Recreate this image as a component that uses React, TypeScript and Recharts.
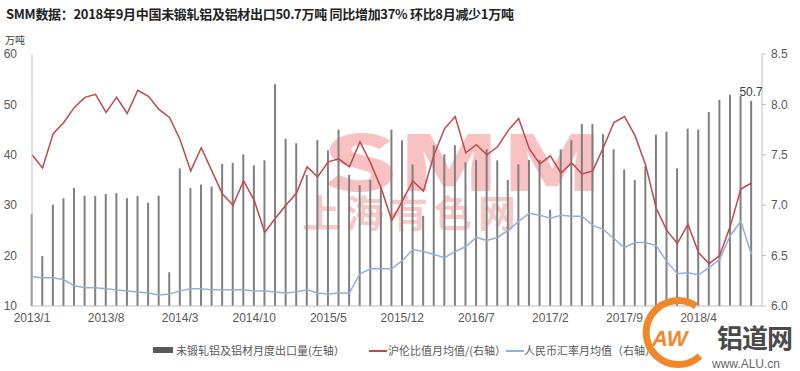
import React from 'react';
import { ComposedChart, Bar, Line, XAxis, YAxis, LabelList } from 'recharts';

// 2013/1 .. 2018/9, one entry per month
const months: string[] = [];
for (let y = 2013; y <= 2018; y++) {
    for (let m = 1; m <= 12; m++) {
        if (months.length < 69) months.push(`${y}/${m}`);
    }
}

// 未锻轧铝及铝材月度出口量 (万吨, left axis)
const exportVolume = [
    28.2, 19.9, 30.1, 31.4, 33.4, 31.9, 31.8, 32.2, 32.4, 31.4, 31.8, 30.5,
    31.9, 16.7, 37.3, 33.4, 34.1, 33.7, 38.2, 38.4, 40.1, 37.9, 38.9, 54.0,
    43.2, 42.3, 36.0, 42.9, 40.9, 45.0, 36.0, 34.0, 35.0, 33.5, 45.0, 42.9,
    38.1, 27.9, 41.9, 40.1, 41.9, 38.5, 39.0, 41.1, 38.9, 35.0, 38.1, 39.0,
    39.0, 29.1, 41.1, 42.9, 46.1, 46.1, 44.1, 41.1, 37.1, 35.0, 37.7, 44.0,
    44.6, 37.3, 45.2, 45.0, 48.5, 50.9, 51.9, 51.7, 50.7,
];

// 沪伦比值月均值 (right axis)
const shfeLmeRatio = [
    7.50, 7.37, 7.71, 7.82, 7.97, 8.07, 8.10, 7.92, 8.07, 7.91, 8.14, 8.08,
    7.95, 7.87, 7.65, 7.34, 7.57, 7.34, 7.11, 7.00, 7.24, 7.05, 6.73, 6.87,
    7.00, 7.12, 7.38, 7.28, 7.43, 7.46, 7.38, 7.63, 7.42, 7.17, 6.85, 7.04,
    7.24, 7.14, 7.50, 7.76, 7.88, 7.52, 7.60, 7.50, 7.58, 7.74, 7.86, 7.56,
    7.41, 7.49, 7.32, 7.42, 7.31, 7.34, 7.57, 7.82, 7.88, 7.69, 7.40, 6.97,
    6.75, 6.62, 6.81, 6.53, 6.42, 6.50, 6.79, 7.16, 7.22,
];

// 人民币汇率月均值 (right axis)
const cnyRate = [
    6.29, 6.28, 6.28, 6.26, 6.20, 6.18, 6.18, 6.17, 6.16, 6.15, 6.14, 6.13,
    6.11, 6.12, 6.15, 6.17, 6.17, 6.16, 6.16, 6.16, 6.16, 6.15, 6.15, 6.14,
    6.13, 6.14, 6.16, 6.13, 6.12, 6.13, 6.13, 6.32, 6.37, 6.37, 6.37, 6.45,
    6.56, 6.54, 6.51, 6.48, 6.54, 6.59, 6.68, 6.65, 6.68, 6.75, 6.84, 6.92,
    6.90, 6.87, 6.90, 6.89, 6.89, 6.80, 6.76, 6.67, 6.58, 6.63, 6.63, 6.60,
    6.44, 6.32, 6.33, 6.31, 6.38, 6.46, 6.70, 6.84, 6.51,
];

const xTickLabels = ['2013/1', '2013/8', '2014/3', '2014/10', '2015/5', '2015/12', '2016/7', '2017/2', '2017/9', '2018/4'];
const leftTicks = [10, 20, 30, 40, 50, 60];
const rightTicks = [6.0, 6.5, 7.0, 7.5, 8.0, 8.5];

const data = months.map((m, i) => ({
    idx: i,
    month: m,
    volume: exportVolume[i],
    ratio: shfeLmeRatio[i],
    rate: cnyRate[i],
    lastLabel: i === months.length - 1 ? exportVolume[i] : undefined,
}));
const xTicks = xTickLabels.map((l) => months.indexOf(l));

const FONT = '"Liberation Sans", "Noto Sans CJK SC", sans-serif';
const CJK = '"Noto Sans CJK SC", "Liberation Sans", sans-serif';
const axisColor = '#bfbfbf';
const tickStyle = { fill: '#595959', fontSize: 12, fontFamily: FONT };

const legendText: React.CSSProperties = {
    position: 'absolute', top: 342, fontSize: 11, color: '#595959', fontFamily: CJK, whiteSpace: 'nowrap',
};

const App: React.FC = () => {
    return (
        <div style={{ position: 'absolute', left: 0, top: 0, width: 800, height: 371, background: '#fff', overflow: 'hidden' }}>
            {/* watermark */}
            <div style={{ position: 'absolute', left: 322, top: 128, fontFamily: CJK, fontWeight: 900, fontSize: 76, color: 'rgba(240,110,110,0.42)', lineHeight: '60px', transform: 'scaleX(1.55)', transformOrigin: 'left top' }}>
                SMM
            </div>
            <div style={{ position: 'absolute', left: 302, top: 190, fontFamily: CJK, fontWeight: 700, fontSize: 38, color: 'rgba(240,110,110,0.38)', letterSpacing: 6, lineHeight: '42px' }}>
                上海有色网
            </div>

            <div style={{ position: 'absolute', left: 6, top: 4, fontFamily: CJK, fontWeight: 700, fontSize: 13, color: '#222', whiteSpace: 'nowrap', letterSpacing: -0.3 }}>
                SMM数据：2018年9月中国未锻轧铝及铝材出口50.7万吨 同比增加37% 环比8月减少1万吨
            </div>
            <div style={{ position: 'absolute', left: 5, top: 32, fontFamily: CJK, fontSize: 10, color: '#404040' }}>万吨</div>

            <div style={{ position: 'absolute', left: 0, top: 0 }}>
                <ComposedChart width={800} height={371} data={data} margin={{ top: 54, right: 0, left: 0, bottom: 0 }}>
                    <XAxis
                        type="number"
                        dataKey="idx"
                        domain={[0, 69]}
                        ticks={xTicks}
                        interval={0}
                        tickFormatter={(v: number) => months[v]}
                        height={65}
                        axisLine={{ stroke: axisColor }}
                        tickLine={false}
                        tickSize={0}
                        tickMargin={7}
                        tick={tickStyle}
                    />
                    <YAxis
                        yAxisId="left"
                        domain={[10, 60]}
                        ticks={leftTicks}
                        width={32}
                        axisLine={{ stroke: axisColor }}
                        tickLine={false}
                        tickSize={0}
                        tickMargin={15}
                        tick={tickStyle}
                    />
                    <YAxis
                        yAxisId="right"
                        orientation="right"
                        domain={[6, 8.5]}
                        ticks={rightTicks}
                        tickFormatter={(v: number) => v.toFixed(1)}
                        width={38}
                        axisLine={{ stroke: axisColor }}
                        tickLine={{ stroke: axisColor }}
                        tickSize={4}
                        tickMargin={5}
                        tick={tickStyle}
                    />
                    <Bar yAxisId="left" dataKey="volume" fill="#7f7f7f" barSize={2} isAnimationActive={false}>
                        <LabelList dataKey="lastLabel" position="top" fill="#404040" fontSize={12} fontFamily={FONT} />
                    </Bar>
                    <Line yAxisId="right" type="linear" dataKey="ratio" stroke="#c0474a" strokeWidth={1.5} dot={false} isAnimationActive={false} />
                    <Line yAxisId="right" type="linear" dataKey="rate" stroke="#8fb1d9" strokeWidth={1.5} dot={false} isAnimationActive={false} />
                </ComposedChart>
            </div>

            {/* legend */}
            <div style={{ position: 'absolute', left: 153, top: 347, width: 20, height: 6, background: '#595959' }} />
            <div style={{ ...legendText, left: 176 }}>未锻轧铝及铝材月度出口量(左轴）</div>
            <div style={{ position: 'absolute', left: 369, top: 350, width: 18, height: 1.5, background: '#c0474a' }} />
            <div style={{ ...legendText, left: 388 }}>沪伦比值月均值/(右轴）</div>
            <div style={{ position: 'absolute', left: 506, top: 350, width: 18, height: 1.5, background: '#8fb1d9' }} />
            <div style={{ ...legendText, left: 524 }}>人民币汇率月均值（右轴）</div>

            {/* logo */}
            <svg style={{ position: 'absolute', left: 630, top: 296 }} width={80} height={75}>
                <path d="M 66 10 A 32 32 0 1 0 70 60" fill="none" stroke="#f0872a" strokeWidth={7} />
                <text x={22} y={50} fontFamily={FONT} fontStyle="italic" fontWeight={700} fontSize={22} fill="#f0872a">AW</text>
            </svg>
            <div style={{ position: 'absolute', left: 717, top: 324, fontFamily: CJK, fontWeight: 700, fontSize: 26, color: '#4a4a4a', lineHeight: '26px', letterSpacing: -1 }}>铝道网</div>
            <div style={{ position: 'absolute', left: 712, top: 357, fontFamily: FONT, fontSize: 12, color: '#666', lineHeight: '14px' }}>www.ALU.cn</div>
        </div>
    );
};

export default App;
